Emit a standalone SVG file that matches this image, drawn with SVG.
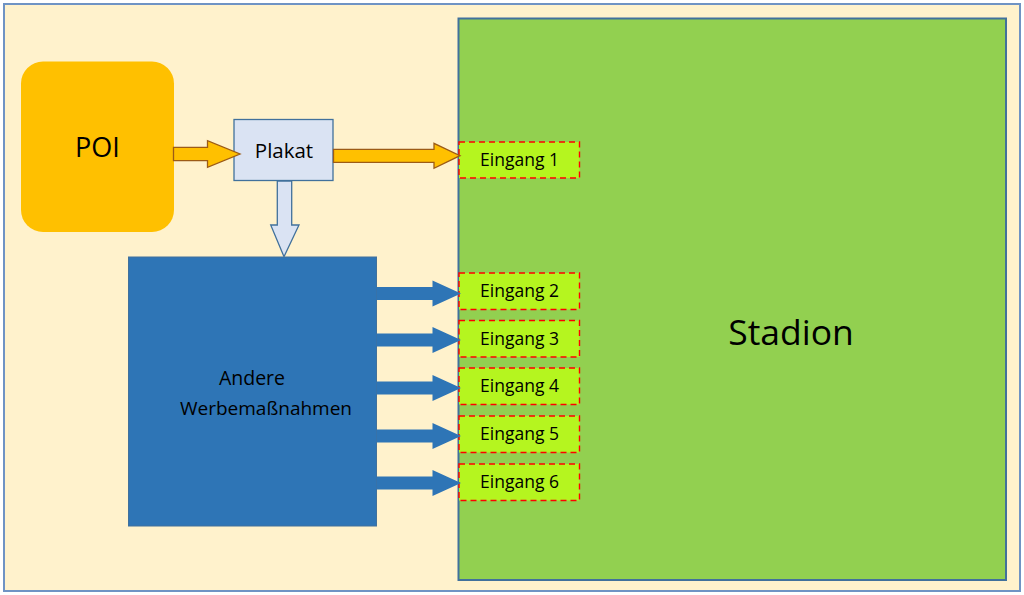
<svg xmlns="http://www.w3.org/2000/svg" width="1024" height="595" viewBox="0 0 1024 595">
<style>
text{font-family:"Open Sans","Noto Sans","Liberation Sans",sans-serif;fill:#000}
.orange{fill:#FFC000;stroke:#9C5B16;stroke-width:1.3}
.blue{fill:#2E75B6}
.ein rect{fill:#B5F51F;stroke:#FF0000;stroke-width:1.4;stroke-dasharray:6 4}
.ein text{font-size:17.5px;text-anchor:middle}
</style>
<rect x="4" y="4" width="1016" height="587" fill="#FFF2CC" stroke="#6F93C4" stroke-width="2"/>
<g id="stadion">
<rect x="458.5" y="18.5" width="547.5" height="561.5" fill="#92D050" stroke="#41719C" stroke-width="2"/>
<text x="791" y="345" font-size="35.5" text-anchor="middle">Stadion</text>
</g>
<g id="poi">
<rect x="21" y="61.5" width="153" height="170.5" rx="22" fill="#FFC000"/>
<text x="97.5" y="157" font-size="27" text-anchor="middle">POI</text>
</g>
<g id="plakat">
<rect x="234" y="119.5" width="99" height="61" fill="#DAE3F3" stroke="#41719C" stroke-width="1.3"/>
<text x="284" y="158" font-size="20.5" text-anchor="middle">Plakat</text>
</g>
<g id="andere">
<rect x="128.5" y="257" width="248" height="269" fill="#2E75B6" stroke="#41719C" stroke-width="1"/>
<text x="252" y="385" font-size="19.5" text-anchor="middle">Andere</text>
<text x="266" y="415" font-size="19" text-anchor="middle">Werbemaßnahmen</text>
</g>
<g id="eingang1" class="ein"><rect x="459" y="142" width="120.5" height="36"/><text x="519.5" y="166">Eingang 1</text></g>
<g id="eingang2" class="ein"><rect x="459" y="273" width="120.5" height="36.5"/><text x="519.5" y="297">Eingang 2</text></g>
<g id="eingang3" class="ein"><rect x="459" y="320.5" width="120.5" height="36.5"/><text x="519.5" y="344.5">Eingang 3</text></g>
<g id="eingang4" class="ein"><rect x="459" y="368" width="120.5" height="36.5"/><text x="519.5" y="392">Eingang 4</text></g>
<g id="eingang5" class="ein"><rect x="459" y="416" width="120.5" height="36.5"/><text x="519.5" y="440">Eingang 5</text></g>
<g id="eingang6" class="ein"><rect x="459" y="464" width="120.5" height="36.5"/><text x="519.5" y="488">Eingang 6</text></g>
<g id="connectors">
<polygon class="orange" points="173.5,147.3 207.5,147.3 207.5,140.7 240,154 207.5,167.3 207.5,160.7 173.5,160.7"/>
<polygon class="orange" points="333.5,149.3 434,149.3 434,143.3 460,155.7 434,168.3 434,162.3 333.5,162.3"/>
<polygon points="277.3,181 291.7,181 291.7,225 299,225 284,256.7 270.7,225 277.3,225" fill="#DAE3F3" stroke="#41719C" stroke-width="1.3"/>
<polygon class="blue" points="376.5,287 432.5,287 432.5,280.5 461,293.5 432.5,306.5 432.5,300 376.5,300"/>
<polygon class="blue" points="376.5,333.5 432.5,333.5 432.5,327 461,340 432.5,353 432.5,346.5 376.5,346.5"/>
<polygon class="blue" points="376.5,381.5 432.5,381.5 432.5,375 461,388 432.5,401 432.5,394.5 376.5,394.5"/>
<polygon class="blue" points="376.5,429.5 432.5,429.5 432.5,423 461,436 432.5,449 432.5,442.5 376.5,442.5"/>
<polygon class="blue" points="376.5,476.5 432.5,476.5 432.5,470 461,483 432.5,496 432.5,489.5 376.5,489.5"/>
</g>
</svg>
